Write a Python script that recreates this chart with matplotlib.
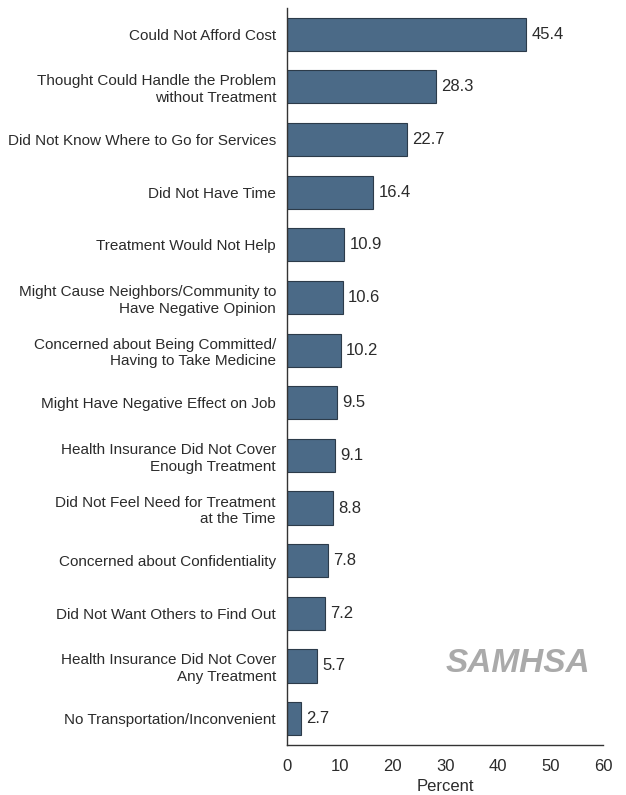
import numpy as np
import matplotlib.pyplot as plt
from matplotlib import font_manager

# Reasons for not receiving mental health services
reasons = [
    'Could Not Afford Cost',
    'Thought Could Handle the Problem\nwithout Treatment',
    'Did Not Know Where to Go for Services',
    'Did Not Have Time',
    'Treatment Would Not Help',
    'Might Cause Neighbors/Community to\nHave Negative Opinion',
    'Concerned about Being Committed/\nHaving to Take Medicine',
    'Might Have Negative Effect on Job',
    'Health Insurance Did Not Cover\nEnough Treatment',
    'Did Not Feel Need for Treatment\nat the Time',
    'Concerned about Confidentiality',
    'Did Not Want Others to Find Out',
    'Health Insurance Did Not Cover\nAny Treatment',
    'No Transportation/Inconvenient',
]
percent = [45.4, 28.3, 22.7, 16.4, 10.9, 10.6, 10.2, 9.5, 9.1, 8.8, 7.8, 7.2, 5.7, 2.7]
xticks = [0, 10, 20, 30, 40, 50, 60]

names = {f.name for f in font_manager.fontManager.ttflist}
fam = 'Liberation Sans Narrow' if 'Liberation Sans Narrow' in names else 'Liberation Sans'
plt.rcParams['font.family'] = [fam, 'DejaVu Sans']

txt = '#2b2b2b'
fig = plt.figure(figsize=(6.26, 7.95), dpi=100)
ax = fig.add_axes([0.4585, 0.063, 0.505, 0.927])

y = np.arange(len(reasons))
ax.barh(y, percent, height=0.63, color='#4b6a87', edgecolor='#2c3b4a', linewidth=0.8)
for yi, v in zip(y, percent):
    ax.text(v + 1.0, yi, f'{v:.1f}', va='center', ha='left', fontsize=12, color=txt)

ax.set_yticks(y)
ax.set_yticklabels(reasons, fontsize=11, color=txt, linespacing=1.25)
ax.set_ylim(13.5, -0.5)
ax.set_xlim(0, 60)
ax.set_xticks(xticks)
ax.set_xticklabels([str(t) for t in xticks], fontsize=12, color=txt)
ax.tick_params(axis='x', length=0, pad=10)
ax.tick_params(axis='y', length=0, pad=8)
ax.set_xlabel('Percent', fontsize=12, color=txt, labelpad=4)

for s in ['top', 'right']:
    ax.spines[s].set_visible(False)
for s in ['left', 'bottom']:
    ax.spines[s].set_color('#333333')
    ax.spines[s].set_linewidth(1.0)

fig.text(0.828, 0.165, 'SAMHSA', fontsize=24, fontweight='bold', fontstyle='italic',
         color='#aaaaaa', ha='center', va='center', family=['Liberation Sans', 'DejaVu Sans'])

fig.savefig('out.png', dpi=100)
